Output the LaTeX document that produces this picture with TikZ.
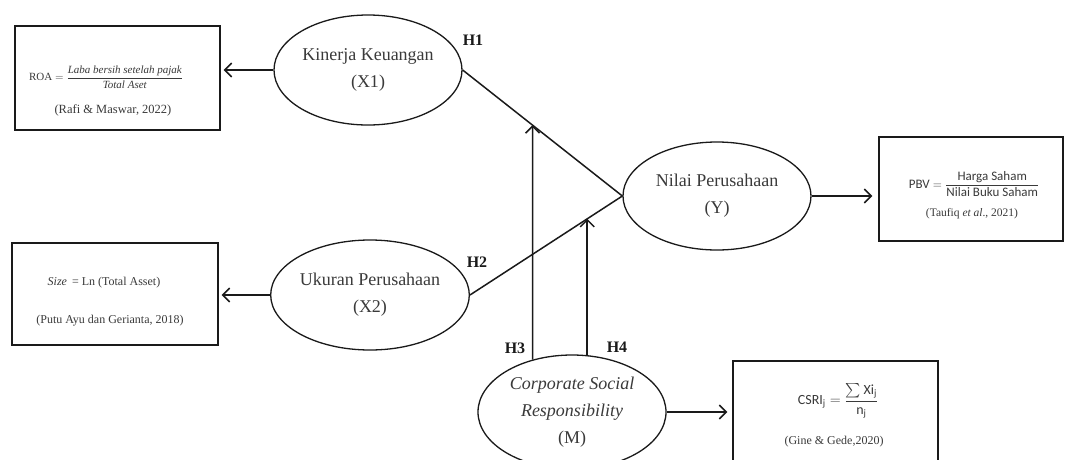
\documentclass[tikz,border=0pt]{standalone}
\usepackage{amsmath}
\usepackage{fontspec}
\setmainfont{Liberation Serif}
\newfontfamily\calibri{Carlito}
\definecolor{ink}{HTML}{1A1A1A}
\definecolor{txt}{HTML}{3A3A3A}
\usetikzlibrary{shapes.geometric}
\usetikzlibrary{arrows.meta,intersections}

\tikzset{
  var/.style={ellipse, draw=ink, line width=1.3pt, minimum width=188pt, minimum height=110pt,
    inner sep=0pt, align=center, text=txt, font=\fontsize{18}{27}\selectfont},
  ind/.style={rectangle, draw=ink, line width=1.3pt, inner sep=0pt},
  arr/.style={ink, line width=1.5pt, -{Straight Barb[length=7pt,width=14pt]}},
  hyp/.style={text=ink, font=\fontsize{16}{16}\selectfont\bfseries},
}

\begin{document}
\begin{tikzpicture}[x=1pt,y=-1pt]
	\useasboundingbox (0,0) rectangle (1071,459);
	\clip (0,0) rectangle (1071,459);
	\fill[white] (0,0) rectangle (1071,459);

	% variabel
	\node[var] (x1) at (368,70) {Kinerja Keuangan\\(X1)};
	\node[var] (x2) at (370,295) {Ukuran Perusahaan\\(X2)};
	\node[var, minimum height=108pt] (y) at (717,196) {Nilai Perusahaan\\(Y)};
	\node[var, minimum height=114pt] (m) at (572,412) {\textit{Corporate Social}\\\textit{Responsibility}\\(M)};

	% indikator
	\node[ind, minimum width=205pt, minimum height=104pt] (roa) at (117.5,78) {};
	\node[ind, minimum width=184pt, minimum height=104pt] (pbv) at (971,189) {};
	\node[ind, minimum width=206pt, minimum height=102pt] (size) at (115,294) {};
	\node[ind, minimum width=205pt, minimum height=110pt] (csri) at (835.5,416) {};

	\node[text=txt, font=\fontsize{11}{13}\selectfont] (roaf) at (106,77)
		{ROA $=\displaystyle\frac{\textit{Laba bersih setelah pajak}}{\textit{Total Aset}}$};
	\node[text=txt, font=\fontsize{12.5}{14}\selectfont] (roac) at (113,110) {(Rafi \& Maswar, 2022)};

	\node[text=txt, font=\calibri\fontsize{13}{15}\selectfont] (pbvf) at (974,184)
		{PBV $=\displaystyle\frac{\text{Harga Saham}}{\text{Nilai Buku Saham}}$};
	\node[text=txt, font=\fontsize{11.5}{14}\selectfont] (pbvc) at (972,214) {(Taufiq \textit{et al}., 2021)};

	\node[text=txt, font=\fontsize{12}{14}\selectfont] (sizef) at (104,283) {\textit{Size}\, = Ln (Total Asset)};
	\node[text=txt, font=\fontsize{12}{14}\selectfont] (sizec) at (110,321) {(Putu Ayu dan Gerianta, 2018)};

	\node[text=txt, font=\calibri\fontsize{14}{16}\selectfont] (csrif) at (838,401)
		{$\text{CSRI}_{\text{j}}=\displaystyle\frac{\sum\text{Xi}_{\text{j}}}{\text{n}_{\text{j}}}$};
	\node[text=txt, font=\fontsize{12}{14}\selectfont] (csric) at (834,442) {(Gine \& Gede,2020)};

	% hipotesis
	\node[hyp] (h1) at (473,40) {H1};
	\node[hyp] (h2) at (477,262) {H2};
	\node[hyp] (h3) at (515,348) {H3};
	\node[hyp] (h4) at (617,347) {H4};

	\draw[ink, line width=1.5pt] (x1.east) -- (y.west);
	\draw[ink, line width=1.5pt] (x2.east) -- (y.west);

	\path[name path=p1] (x1.east) -- (y.west);
	\path[name path=p2] (x2.east) -- (y.west);
	\path[name path=v3] (m.127) -- ++(0,-300);
	\path[name path=v4] (m.75) -- ++(0,-200);
	\path[name intersections={of=p1 and v3, by=t3}];
	\path[name intersections={of=p2 and v4, by=t4}];
	\draw[arr] (m.127) -- (t3);
	\draw[arr] (m.75) -- (t4);

	\draw[arr, shorten >=3pt] (x1.west) -- (x1.west -| roa.east);
	\draw[arr, shorten >=3pt] (x2.west) -- (x2.west -| size.east);
	\draw[arr, shorten >=6pt] (y.east) -- (y.east -| pbv.west);
	\draw[arr, shorten >=5pt] (m.east) -- (m.east -| csri.west);
\end{tikzpicture}
\end{document}
